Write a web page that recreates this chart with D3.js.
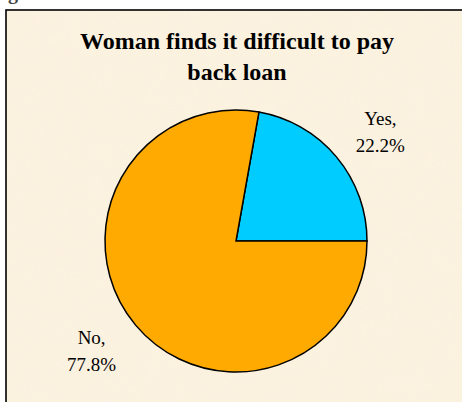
<!DOCTYPE html>
<html>
<head>
<style>
  body { margin: 0; background: #fff; }
  svg { display: block; }
</style>
</head>
<body>
<script src="https://cdnjs.cloudflare.com/ajax/libs/d3/7.8.5/d3.min.js"></script>
<script>

const width = 462;
const height = 402;

// chart data
const categories = ['Yes', 'No'];
const percents = [22.2, 77.8];
const colors = ['#00CCFF', '#FFAA00'];
const titleLines = ['Woman finds it difficult to pay', 'back loan'];

const cx = 236;
const cy = 241;
const radius = 131;

const svg = d3.select('body')
              .append('svg')
              .attr('width', width)
              .attr('height', height);

// parchment-ish texture
const defs = svg.append('defs');
const filt = defs.append('filter').attr('id', 'paper')
                 .attr('x', 0).attr('y', 0).attr('width', '100%').attr('height', '100%');
filt.append('feTurbulence')
    .attr('type', 'fractalNoise')
    .attr('baseFrequency', 0.035)
    .attr('numOctaves', 2)
    .attr('seed', 3);
filt.append('feColorMatrix')
    .attr('values', '0 0 0 0 0.93  0 0 0 0 0.86  0 0 0 0 0.72  0 0 0 0.35 0');
filt.append('feComposite').attr('in2', 'SourceGraphic').attr('operator', 'in');

// cut-off heading from the page above
svg.append('text')
   .attr('x', 8)
   .attr('y', -1)
   .attr('font-family', 'Liberation Serif, Times New Roman, serif')
   .attr('font-weight', 'bold')
   .attr('font-size', 20)
   .attr('fill', '#444')
   .text('g');

svg.append('rect')
   .attr('x', 6).attr('y', 10)
   .attr('width', width + 10).attr('height', height + 10)
   .attr('fill', '#FCF2E0')
   .attr('stroke', '#000')
   .attr('stroke-width', 1.6);

svg.append('rect')
   .attr('x', 7).attr('y', 11)
   .attr('width', width).attr('height', height)
   .attr('fill', '#fff')
   .attr('filter', 'url(#paper)');

// title
svg.append('text')
   .attr('x', 237)
   .attr('y', 49)
   .attr('text-anchor', 'middle')
   .attr('font-family', 'Liberation Serif, Times New Roman, serif')
   .attr('font-weight', 'bold')
   .attr('font-size', 24)
   .selectAll('tspan')
   .data(titleLines)
   .enter()
   .append('tspan')
   .attr('x', 237)
   .attr('dy', (d, i) => i === 0 ? 0 : 31)
   .text(d => d);

// pie: Yes slice ends at 3 o'clock
const total = d3.sum(percents);
const start = Math.PI / 2 - 2 * Math.PI * percents[0] / total;

const pie = d3.pie()
              .sort(null)
              .value(d => d)
              .startAngle(start)
              .endAngle(start + 2 * Math.PI);

const arc = d3.arc().innerRadius(0).outerRadius(radius);

const arcs = pie(percents);

const g = svg.append('g').attr('transform', `translate(${cx},${cy})`);

g.selectAll('path')
 .data(arcs)
 .enter()
 .append('path')
 .attr('d', arc)
 .attr('fill', (d, i) => colors[i])
 .attr('stroke', '#000')
 .attr('stroke-width', 1.5)
 .attr('stroke-linejoin', 'miter');

// labels outside the slices
const labelR = 181;
const labels = g.selectAll('text.lbl')
                .data(arcs)
                .enter()
                .append('text')
                .attr('class', 'lbl')
                .attr('text-anchor', 'middle')
                .attr('font-family', 'Liberation Serif, Times New Roman, serif')
                .attr('font-size', 19)
                .attr('fill', '#000')
                .attr('transform', d => {
                  const a = (d.startAngle + d.endAngle) / 2 + 0.05;
                  return `translate(${labelR * Math.sin(a)},${-labelR * Math.cos(a)})`;
                });

labels.append('tspan')
      .attr('x', 0)
      .attr('y', -6.5)
      .text((d, i) => categories[i] + ',');

labels.append('tspan')
      .attr('x', 0)
      .attr('y', 20.5)
      .text((d, i) => d3.format('.1f')(percents[i]) + '%');

</script>
</body>
</html>
